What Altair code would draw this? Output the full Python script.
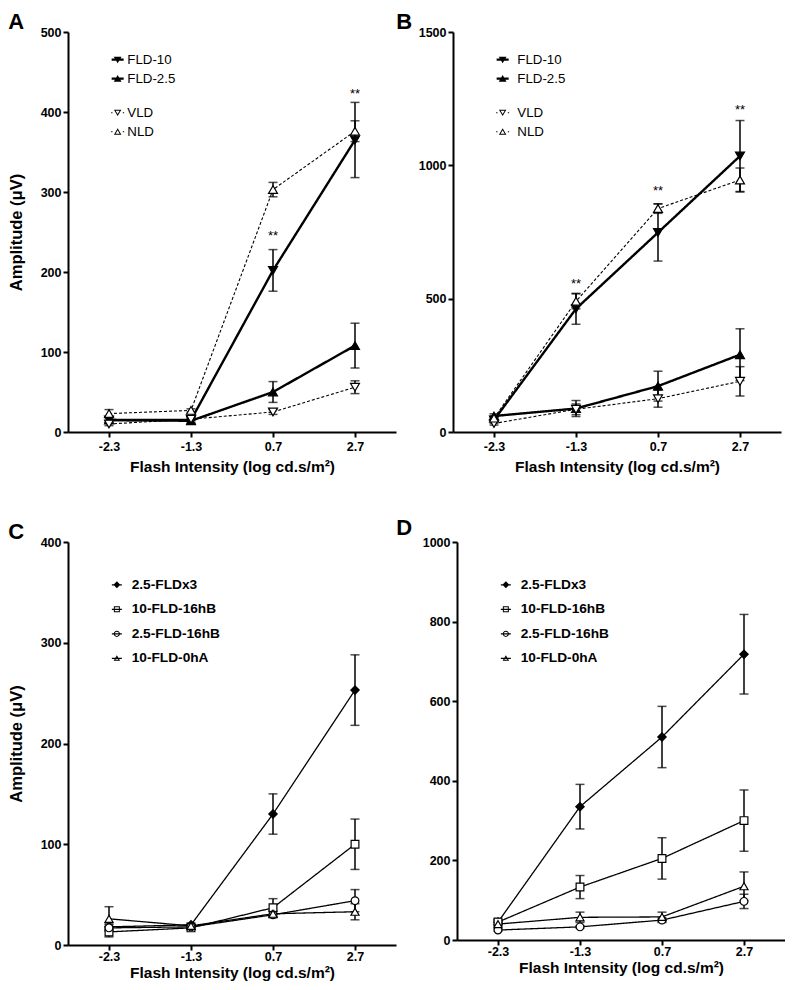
import altair as alt
import pandas as pd

FONT = "Liberation Sans"
x_labels = ["-2.3", "-1.3", "0.7", "2.7"]
x_title = "Flash Intensity (log cd.s/m²)"
y_title = "Amplitude (μV)"

# ---------------- Panel A ----------------
ab_series = ["FLD-10", "FLD-2.5", "VLD", "NLD"]
a_fld10 = [15, 15, 202, 365]
a_fld10_err = [4, 4, 26, 47]
a_fld25 = [15, 14, 50, 108]
a_fld25_err = [3, 3, 13, 28]
a_vld = [10, 16, 25, 56]
a_vld_err = [2, 2, 3, 8]
a_nld = [23, 27, 303, 376]
a_nld_err = [5, 2, 9, 13]
a_star_x = ["0.7", "2.7"]
a_star_y = [250, 427]

# ---------------- Panel B ----------------
b_fld10 = [45, 462, 748, 1035]
b_fld10_err = [12, 58, 107, 133]
b_fld25 = [60, 88, 172, 290]
b_fld25_err = [8, 30, 56, 97]
b_vld = [32, 85, 125, 190]
b_vld_err = [6, 20, 32, 55]
b_nld = [52, 490, 838, 945]
b_nld_err = [8, 28, 18, 45]
b_star_x = ["-1.3", "0.7", "2.7"]
b_star_y = [569, 919, 1223]

# ---------------- Panel C ----------------
cd_series = ["2.5-FLDx3", "10-FLD-16hB", "2.5-FLD-16hB", "10-FLD-0hA"]
c_fldx3 = [18, 20, 130, 253]
c_fldx3_err = [3, 2, 20, 35]
c_10_16hb = [13, 17, 37, 100]
c_10_16hb_err = [5, 2, 9, 25]
c_25_16hb = [17, 18, 30, 44]
c_25_16hb_err = [3, 2, 3, 11]
c_10_0ha = [26, 19, 31, 33]
c_10_0ha_err = [12, 2, 3, 8]

# ---------------- Panel D ----------------
d_fldx3 = [45, 335, 510, 718]
d_fldx3_err = [5, 56, 77, 100]
d_10_16hb = [45, 133, 205, 300]
d_10_16hb_err = [6, 29, 52, 77]
d_25_16hb = [25, 33, 50, 97]
d_25_16hb_err = [3, 3, 6, 18]
d_10_0ha = [40, 57, 58, 135]
d_10_0ha_err = [5, 13, 12, 36]

# ---------------- styles ----------------
STYLE_AB = {
    "FLD-10": dict(shape="triangle-down", size=80, fill="black", lw=2.4, dash=[1, 0]),
    "FLD-2.5": dict(shape="triangle-up", size=80, fill="black", lw=2.4, dash=[1, 0]),
    "VLD": dict(shape="triangle-down", size=80, fill="white", lw=1.1, dash=[3, 2]),
    "NLD": dict(shape="triangle-up", size=80, fill="white", lw=1.1, dash=[3, 2]),
}
STYLE_CD = {
    "2.5-FLDx3": dict(shape="diamond", size=70, fill="black", lw=1.3, dash=[1, 0]),
    "10-FLD-16hB": dict(shape="square", size=60, fill="white", lw=1.3, dash=[1, 0]),
    "2.5-FLD-16hB": dict(shape="circle", size=60, fill="white", lw=1.3, dash=[1, 0]),
    "10-FLD-0hA": dict(shape="triangle-up", size=65, fill="white", lw=1.3, dash=[1, 0]),
}
# legend symbols drawn as filled geometry: clockwise = ink, counter-clockwise = hole
PATH_AB = {
    "FLD-10": "M-1,-0.18H1V0.18H-1Z M-0.65,-0.5L0.65,-0.5L0,0.6Z",
    "FLD-2.5": "M-1,-0.18H1V0.18H-1Z M0,-0.6L0.65,0.5L-0.65,0.5Z",
    "VLD": ("M-1.08,-0.08H-0.86V0.08H-1.08Z M0.86,-0.08H1.08V0.08H0.86Z "
            "M-0.62,-0.5L0.62,-0.5L0,0.55Z M-0.34,-0.33L0,0.23L0.34,-0.33Z"),
    "NLD": ("M-1.08,-0.08H-0.86V0.08H-1.08Z M0.86,-0.08H1.08V0.08H0.86Z "
            "M0,-0.55L0.62,0.5L-0.62,0.5Z M0,-0.23L-0.34,0.33L0.34,0.33Z"),
}
PATH_CD = {
    "2.5-FLDx3": "M-1,-0.12H1V0.12H-1Z M-0.7,0L0,-0.7L0.7,0L0,0.7Z",
    "10-FLD-16hB": ("M-1,-0.12H1V0.12H-1Z M-0.6,-0.6H0.6V0.6H-0.6Z "
                    "M-0.4,-0.4V0.4H0.4V-0.4Z"),
    "2.5-FLD-16hB": ("M-1,-0.12H1V0.12H-1Z "
                     "M0.62,0A0.62,0.62,0,1,1,-0.62,0A0.62,0.62,0,1,1,0.62,0Z "
                     "M0.42,0A0.42,0.42,0,1,0,-0.42,0A0.42,0.42,0,1,0,0.42,0Z"),
    "10-FLD-0hA": ("M-1,-0.12H1V0.12H-1Z M0,-0.6L0.65,0.5L-0.65,0.5Z "
                   "M0,-0.21L-0.3,0.3L0.3,0.3Z"),
}


def long_df(series, vals, errs):
    rows = []
    for name, v, e in zip(series, vals, errs):
        for xl, vv, ee in zip(x_labels, v, e):
            rows.append({"x": xl, "series": name, "value": vv,
                         "lo": vv - ee, "hi": vv + ee})
    return pd.DataFrame(rows)


W = 328


def panel(letter, df, series, styles, paths, ymax, yticks, stars_x, stars_y,
          legend_groups, legend_cfg, show_ytitle, title_dx, title_offset, height,
          xlab_pad, xtitle_pad):
    X = alt.X("x:N", sort=x_labels,
              scale=alt.Scale(domain=x_labels, type="point", padding=0.5),
              axis=alt.Axis(title=x_title, labelAngle=0, values=x_labels,
                            labelPadding=xlab_pad, titlePadding=xtitle_pad))

    def Yf(field):
        return alt.Y(f"{field}:Q",
                     scale=alt.Scale(domain=[0, ymax], nice=False, zero=True),
                     axis=alt.Axis(values=yticks, format="d",
                                   title=y_title if show_ytitle else None))

    base = alt.Chart(df)
    layers = []
    for s in series:
        st = styles[s]
        layers.append(
            base.transform_filter(alt.datum.series == s)
            .mark_line(color="black", strokeWidth=st["lw"], strokeDash=st["dash"])
            .encode(x=X, y=Yf("value"))
        )
    layers.append(base.mark_rule(color="black", strokeWidth=1.5)
                  .encode(x=X, y=Yf("lo"), y2="hi:Q"))
    layers.append(base.mark_tick(color="black", thickness=1.5, size=9)
                  .encode(x=X, y=Yf("lo")))
    layers.append(base.mark_tick(color="black", thickness=1.5, size=9)
                  .encode(x=X, y=Yf("hi")))
    for s in series:
        st = styles[s]
        layers.append(
            base.transform_filter(alt.datum.series == s)
            .mark_point(shape=st["shape"], size=st["size"], filled=True,
                        fill=st["fill"], stroke="black", strokeWidth=1.2, opacity=1)
            .encode(x=X, y=Yf("value"))
        )
    if stars_x:
        sdf = pd.DataFrame({"x": stars_x, "value": stars_y})
        layers.append(alt.Chart(sdf).mark_text(text="**", font=FONT, fontSize=13,
                                               color="black", dy=4)
                      .encode(x=X, y=Yf("value")))
    for names, lx, ly in legend_groups:
        layers.append(
            base.transform_filter("false")
            .mark_point(filled=True, fill="black", strokeWidth=0, opacity=1)
            .encode(
                x=X, y=Yf("value"),
                shape=alt.Shape("series:N",
                                scale=alt.Scale(domain=names,
                                                range=[paths[n] for n in names]),
                                legend=alt.Legend(
                                    orient="none", legendX=lx, legendY=ly, title=None,
                                    padding=0, symbolOpacity=1, symbolStrokeWidth=0,
                                    symbolFillColor="black",
                                    **legend_cfg)),
            )
        )
    return (alt.layer(*layers)
            .resolve_scale(shape="independent")
            .properties(width=W, height=height,
                        title=alt.TitleParams(text=letter, anchor="start", frame="bounds",
                                              font=FONT, fontSize=22, fontWeight="bold",
                                              color="black", offset=title_offset,
                                              dx=title_dx)))


leg_ab = dict(symbolSize=144, labelFont=FONT, labelFontSize=13.3, labelFontWeight="normal",
              labelColor="black", labelOffset=3, rowPadding=5)
leg_b = dict(leg_ab, labelOffset=8)
leg_cd = dict(symbolSize=100, labelFont=FONT, labelFontSize=13.7, labelFontWeight="bold",
              labelColor="black", labelOffset=8, rowPadding=9.5)

dfA = long_df(ab_series, [a_fld10, a_fld25, a_vld, a_nld],
              [a_fld10_err, a_fld25_err, a_vld_err, a_nld_err])
dfB = long_df(ab_series, [b_fld10, b_fld25, b_vld, b_nld],
              [b_fld10_err, b_fld25_err, b_vld_err, b_nld_err])
dfC = long_df(cd_series, [c_fldx3, c_10_16hb, c_25_16hb, c_10_0ha],
              [c_fldx3_err, c_10_16hb_err, c_25_16hb_err, c_10_0ha_err])
dfD = long_df(cd_series, [d_fldx3, d_10_16hb, d_25_16hb, d_10_0ha],
              [d_fldx3_err, d_10_16hb_err, d_25_16hb_err, d_10_0ha_err])

pA = panel("A", dfA, ab_series, STYLE_AB, PATH_AB, 500, [0, 100, 200, 300, 400, 500],
           a_star_x, a_star_y,
           [(["FLD-10", "FLD-2.5"], 43, 21), (["VLD", "NLD"], 43, 74)],
           leg_ab, True, 0, -8, 400, 3, 7)
pB = panel("B", dfB, ab_series, STYLE_AB, PATH_AB, 1500, [0, 500, 1000, 1500],
           b_star_x, b_star_y,
           [(["FLD-10", "FLD-2.5"], 43, 21), (["VLD", "NLD"], 43, 74)],
           leg_b, False, -22, -8, 400, 3, 7)
pC = panel("C", dfC, cd_series, STYLE_CD, PATH_CD, 400, [0, 100, 200, 300, 400],
           [], [], [(cd_series, 42, 36)], leg_cd, True, 0, -8, 403, 0, 3)
pD = panel("D", dfD, cd_series, STYLE_CD, PATH_CD, 1000, [0, 200, 400, 600, 800, 1000],
           [], [], [(cd_series, 42, 36)], leg_cd, False, -26, -4, 398, 0, 3)

chart = (
    alt.vconcat(alt.hconcat(pA, pB, spacing=0), alt.hconcat(pC, pD, spacing=0), spacing=42)
    .properties(padding={"top": 3, "left": 0, "right": 0, "bottom": 0})
    .configure_view(stroke=None)
    .configure_axis(domainColor="black", domainWidth=2, tickColor="black", tickWidth=2,
                    tickSize=5, labelPadding=2, labelFont=FONT, labelFontSize=12.5,
                    labelFontWeight="bold", labelColor="black", titleFont=FONT,
                    titleFontWeight="bold", titleColor="black", grid=False)
    .configure_axisX(titleFontSize=15.5)
    .configure_axisY(titleFontSize=16.5, titlePadding=16)
)

chart.save("out.html", embed_options={"renderer": "svg", "actions": False})
